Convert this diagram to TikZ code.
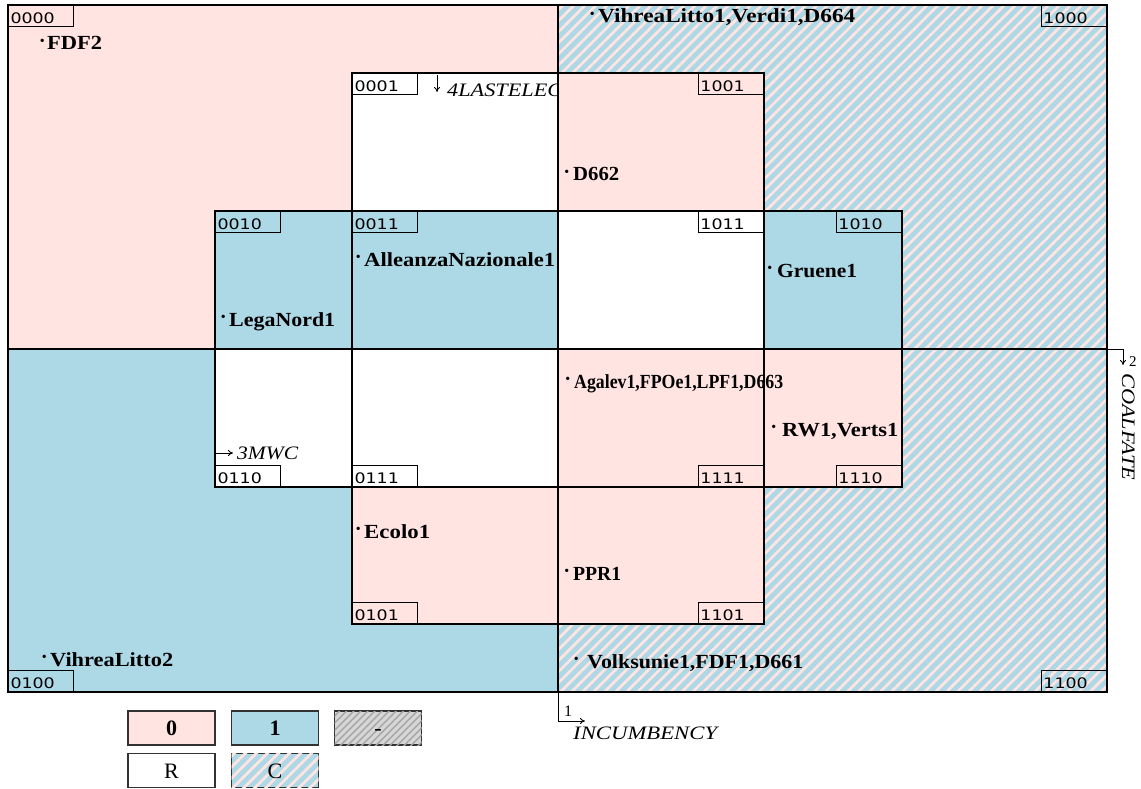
\documentclass[tikz,border=0pt]{standalone}
\usepackage{fontspec}
\usepackage{graphicx}
\setmainfont{Liberation Serif}
\newfontfamily\codefont{DejaVu Sans}
\usetikzlibrary{patterns.meta,arrows.meta}
\definecolor{mpink}{RGB}{255,228,225}
\definecolor{lblue}{RGB}{173,216,230}
\definecolor{hgray}{RGB}{214,214,214}
\definecolor{hgrayline}{RGB}{165,165,165}
\definecolor{lgdraw}{RGB}{50,50,50}
\newcommand{\codetxt}[1]{\scalebox{1.2}[1]{\fontsize{14.5}{14.5}\selectfont\codefont #1}}
\newcommand{\lbtxt}[2]{\resizebox{#1pt}{\height}{\fontsize{20}{20}\selectfont\bfseries #2}}
\newcommand{\ittxt}[2]{\resizebox{#1pt}{\height}{\fontsize{19}{19}\selectfont\itshape #2}}
\newcommand{\bulletmark}[1][3]{\raisebox{4.5pt}{\fontsize{14}{14}\selectfont\textbullet}\hspace{#1pt}}
\begin{document}
\begin{tikzpicture}[x=1pt,y=-1pt,
  mapline/.style={draw=black,line width=1.1pt},
  pinkcell/.style={fill=mpink},
  bluecell/.style={fill=lblue},
  whitecell/.style={fill=white},
  hatchcell/.style={fill=lblue,postaction={pattern={Lines[angle=45,distance=7.8pt,line width=2.8pt]},pattern color=mpink}},
  grayhatch/.style={fill=hgray,postaction={pattern={Lines[angle=45,distance=5pt,line width=1.4pt]},pattern color=hgrayline}},
  codebox/.style={draw=black,line width=1.1pt,minimum width=65pt,minimum height=21pt,inner xsep=2pt,inner ysep=0pt,text width=61pt,align=left,text height=14.8pt,text depth=0pt},
  party/.style={anchor=base west,inner sep=0pt},
  axlabel/.style={anchor=base west,inner sep=0pt},
  axarrow/.style={draw=black,line width=0.9pt,-{To[length=5pt,width=6pt]}},
  legbox/.style={draw=lgdraw,line width=1.3pt,minimum width=87pt,minimum height=34pt,inner sep=0pt,text height=15pt,text depth=0pt,font=\fontsize{22}{22}\selectfont}
]
\useasboundingbox (0,0) rectangle (1141,789);
\fill[white] (0,0) rectangle (1141,789);

% quadrants
\fill[pinkcell] (8,5) rectangle (558,349);
\fill[hatchcell] (558,5) rectangle (1107,349);
\fill[bluecell] (8,349) rectangle (558,692);
\fill[hatchcell] (558,349) rectangle (1107,692);

% inner cells
\fill[whitecell] (352,73) rectangle (558,211);
\coordinate (lastS) at (437,75);
\coordinate (lastE) at (437,92);
\draw[axarrow] (lastS) -- (lastE);
\node[axlabel] (lastelec) at (447,97) {\ittxt{115}{4LASTELEC}};
\fill[pinkcell] (558,73) rectangle (764,211);
\fill[bluecell] (215,211) rectangle (352,349);
\fill[bluecell] (352,211) rectangle (558,349);
\fill[whitecell] (558,211) rectangle (764,349);
\fill[bluecell] (764,211) rectangle (902,349);
\fill[whitecell] (215,349) rectangle (352,487);
\fill[whitecell] (352,349) rectangle (558,487);
\fill[pinkcell] (558,349) rectangle (764,487);
\fill[pinkcell] (764,349) rectangle (902,487);
\fill[pinkcell] (352,487) rectangle (558,624);
\fill[pinkcell] (558,487) rectangle (764,624);

% borders
\draw[mapline] (8,5) rectangle (1107,692);
\draw[mapline] (558,5) -- (558,692);
\draw[mapline] (8,349) -- (1107,349);
\draw[mapline] (352,73) rectangle (764,624);
\draw[mapline] (215,211) rectangle (902,487);
\draw[mapline] (352,211) -- (764,211);
\draw[mapline] (352,487) -- (764,487);
\draw[mapline] (352,211) -- (352,487);
\draw[mapline] (764,211) -- (764,487);

% code boxes
\node[codebox,anchor=north west] (c0000) at (8,5) {\codetxt{0000}};
\node[codebox,anchor=north east] (c1000) at (1107,5) {\codetxt{1000}};
\node[codebox,anchor=north west] (c0001) at (352,73) {\codetxt{0001}};
\node[codebox,anchor=north east] (c1001) at (764,73) {\codetxt{1001}};
\node[codebox,anchor=north west] (c0010) at (215,211) {\codetxt{0010}};
\node[codebox,anchor=north west] (c0011) at (352,211) {\codetxt{0011}};
\node[codebox,anchor=north east] (c1011) at (764,211) {\codetxt{1011}};
\node[codebox,anchor=north east] (c1010) at (902,211) {\codetxt{1010}};
\node[codebox,anchor=south west] (c0110) at (215,487) {\codetxt{0110}};
\node[codebox,anchor=south west] (c0111) at (352,487) {\codetxt{0111}};
\node[codebox,anchor=south east] (c1111) at (764,487) {\codetxt{1111}};
\node[codebox,anchor=south east] (c1110) at (902,487) {\codetxt{1110}};
\node[codebox,anchor=south west] (c0101) at (352,624) {\codetxt{0101}};
\node[codebox,anchor=south east] (c1101) at (764,624) {\codetxt{1101}};
\node[codebox,anchor=south west] (c0100) at (8,692) {\codetxt{0100}};
\node[codebox,anchor=south east] (c1100) at (1107,692) {\codetxt{1100}};

% party labels
\node[party] (pfdf2) at (47,50) {\llap{\bulletmark[2.5]}\lbtxt{55}{FDF2}};
\node[party] (pvih1) at (598,23) {\llap{\bulletmark[3.5]}\lbtxt{257}{VihreaLitto1,Verdi1,D664}};
\node[party] (pd662) at (573,181) {\llap{\bulletmark[4]}\lbtxt{46}{D662}};
\node[party] (pall) at (364,266) {\llap{\bulletmark[3.5]}\lbtxt{191}{AlleanzaNazionale1}};
\node[party] (pgru) at (777,277) {\llap{\bulletmark[5]}\lbtxt{80}{Gruene1}};
\node[party] (pleg) at (229,326) {\llap{\bulletmark[3.5]}\lbtxt{106}{LegaNord1}};
\node[party] (paga) at (574,388) {\llap{\bulletmark[4]}\lbtxt{209}{Agalev1,FPOe1,LPF1,D663}};
\node[party] (prw) at (782,436) {\llap{\bulletmark[6]}\lbtxt{116}{RW1,Verts1}};
\node[party] (peco) at (364,538) {\llap{\bulletmark[3.5]}\lbtxt{66}{Ecolo1}};
\node[party] (pppr) at (573,580) {\llap{\bulletmark[4]}\lbtxt{48}{PPR1}};
\node[party] (pvih2) at (50,666) {\llap{\bulletmark[3.5]}\lbtxt{123}{VihreaLitto2}};
\node[party] (pvol) at (587,668) {\llap{\bulletmark[8.5]}\lbtxt{216}{Volksunie1,FDF1,D661}};

% 3MWC
\coordinate (mwcS) at (215,453);
\coordinate (mwcE) at (233,453);
\draw[axarrow] (mwcS) -- (mwcE);
\node[axlabel] (mwc) at (237,459) {\ittxt{61}{3MWC}};

% axes
\coordinate (incA) at (558,692);
\coordinate (incB) at (558,721);
\coordinate (incC) at (585,721);
\draw[axarrow] (incA) -- (incB) -- (incC);
\node[axlabel] (inc1) at (564,716) {\fontsize{16}{16}\selectfont 1};
\node[axlabel] (incl) at (573,739) {\ittxt{144}{INCUMBENCY}};

\coordinate (coA) at (1107,349);
\coordinate (coB) at (1123,349);
\coordinate (coC) at (1123,365);
\draw[axarrow] (coA) -- (coB) -- (coC);
\node[axlabel] (co2) at (1129,366) {\fontsize{15}{15}\selectfont 2};
\node[anchor=base west,inner sep=0pt,rotate=-90] (coal) at (1122,373) {\ittxt{107}{COALFATE}};

% legend
\node[legbox,pinkcell] (lg0) at (171.5,728) {\textbf{0}};
\node[legbox,bluecell] (lg1) at (275,728) {\textbf{1}};
\node[legbox,grayhatch] (lgd) at (378,728) {-};
\node[legbox,whitecell] (lgr) at (171.5,770.5) {R};
\node[legbox,hatchcell] (lgc) at (275,770.5) {C};
\end{tikzpicture}
\end{document}
